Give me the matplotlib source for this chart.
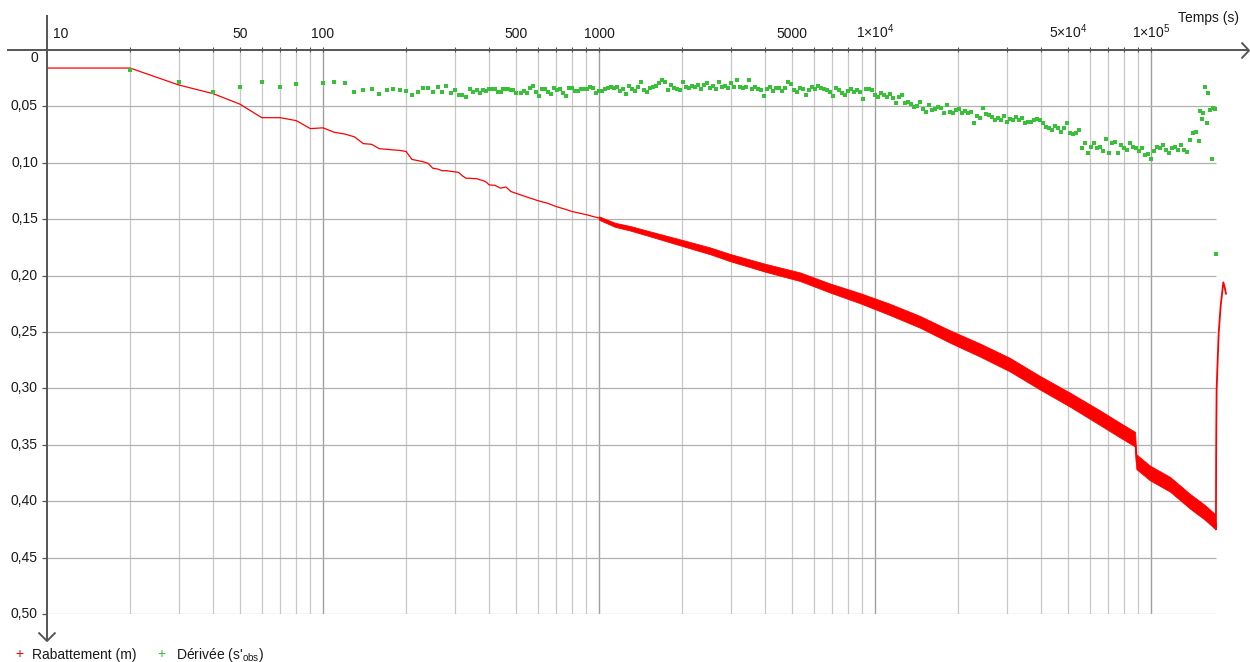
import numpy as np
import matplotlib.pyplot as plt
from matplotlib.lines import Line2D

plt.rcParams['font.family'] = ['Liberation Sans', 'DejaVu Sans']
plt.rcParams['mathtext.fontset'] = 'custom'
plt.rcParams['mathtext.rm'] = 'Liberation Sans'
plt.rcParams['mathtext.it'] = 'Liberation Sans'
plt.rcParams['mathtext.default'] = 'regular'

# --- drawdown (rabattement) in m, time in s ---
r_t = [10, 20, 30, 40, 50, 60, 70, 80, 90, 100, 110, 120, 130, 140, 150, 160, 170, 180,
       190, 200, 210, 220, 230, 240, 250, 260, 270, 280, 290, 300, 310, 320, 330, 340,
       350, 360, 370, 380, 390, 400, 420, 440, 460, 480, 500, 550, 600, 650, 700, 750,
       800, 900, 1000, 1143, 1295, 1530, 1808, 2136, 2524, 2983, 3995, 5350, 6871,
       8825, 11330, 14560, 18690, 24010, 30840, 39610, 50870, 65350, 77230, 87500,
       88500, 99170, 117200, 138400, 156900, 170600]
r_s = [0.016, 0.016, 0.031, 0.0387, 0.048, 0.060, 0.060, 0.0626, 0.0697, 0.069, 0.073,
       0.0745, 0.077, 0.083, 0.0836, 0.0875, 0.088, 0.0886, 0.089, 0.090, 0.097, 0.098,
       0.099, 0.1004, 0.1048, 0.1055, 0.107, 0.107, 0.1076, 0.108, 0.1085, 0.1116,
       0.1137, 0.1137, 0.114, 0.114, 0.115, 0.1158, 0.117, 0.1196, 0.120, 0.1225,
       0.1214, 0.1255, 0.127, 0.1305, 0.1335, 0.1358, 0.1388, 0.141, 0.1432, 0.146,
       0.149, 0.155, 0.158, 0.163, 0.168, 0.173, 0.178, 0.184, 0.193, 0.201, 0.211,
       0.220, 0.230, 0.241, 0.254, 0.266, 0.279, 0.295, 0.310, 0.326, 0.337, 0.345,
       0.365, 0.375, 0.385, 0.400, 0.410, 0.418]
# half spread of the sensor noise on the last points of r_t
r_noise = [0.0015, 0.0018, 0.002, 0.0022, 0.0025, 0.0028, 0.003, 0.0032, 0.0035,
           0.0038, 0.004, 0.0045, 0.005, 0.0052, 0.0055, 0.0058, 0.006, 0.006, 0.0062,
           0.0065, 0.0065, 0.0065, 0.0065, 0.0065, 0.0065, 0.0065, 0.0065, 0.0065]
# recovery after the pump stopped
rec_t = [170600, 171900, 172000, 172200, 172500, 172900, 174400, 175900, 178800,
         182800, 184800, 186900]
rec_s = [0.418, 0.425, 0.40, 0.36, 0.33, 0.301, 0.275, 0.251, 0.227, 0.206, 0.210, 0.216]

# --- derivative s'obs ---
d1_t = [20, 30, 40, 50, 60, 70, 80, 100, 110, 120, 130, 140, 150, 160, 170, 180, 190,
        200, 210, 220, 230, 240, 250, 260, 270, 280, 290, 300, 310, 320, 330, 340, 350,
        360, 370, 380, 390, 400, 410, 420, 430, 440, 450, 460, 470, 480, 490, 500]
d1_s = [0.018, 0.028, 0.037, 0.0325, 0.0287, 0.033, 0.030, 0.029, 0.028, 0.029, 0.037,
        0.0355, 0.0345, 0.039, 0.0357, 0.035, 0.0357, 0.0363, 0.040, 0.0375, 0.0337,
        0.0337, 0.037, 0.033, 0.037, 0.032, 0.038, 0.0357, 0.040, 0.040, 0.0417, 0.0343,
        0.0375, 0.0355, 0.0384, 0.0355, 0.036, 0.0346, 0.0346, 0.035, 0.037, 0.0375,
        0.0346, 0.0346, 0.035, 0.0352, 0.0355, 0.038]
d2_t = [522, 535, 548, 562, 577, 591, 606, 622, 637, 653, 670, 687, 704, 722, 741, 759,
        779, 798, 819, 839, 861, 882, 905, 928, 951, 975]
d2_s = [0.038, 0.036, 0.038, 0.034, 0.032, 0.037, 0.041, 0.035, 0.035, 0.037, 0.039,
        0.034, 0.0355, 0.0346, 0.038, 0.041, 0.034, 0.0334, 0.036, 0.036, 0.035, 0.035,
        0.0346, 0.0325, 0.034, 0.038]
d3_t = [1000, 1025, 1051, 1078, 1105, 1133, 1162, 1191, 1222, 1253, 1284, 1317, 1350,
        1384, 1420, 1455, 1492, 1530, 1569, 1609, 1649, 1691, 1734, 1778, 1823, 1869,
        1917, 1965, 2015, 2066, 2118, 2172, 2227, 2284, 2342, 2401, 2462, 2524, 2588,
        2654, 2721, 2790, 2861, 2933, 3008, 3084, 3162, 3242, 3325, 3409, 3495, 3584,
        3675, 3768, 3863, 3961, 4061, 4164, 4270, 4378, 4489, 4602, 4719, 4838, 4961,
        5087, 5215, 5347, 5483, 5623, 5765, 5911, 6061, 6215, 6372, 6534, 6699, 6869,
        7043, 7222, 7405, 7593, 7786, 7983, 8185, 8393, 8605, 8823, 9047, 9276, 9511,
        9752]
d3_s = [0.0363, 0.036, 0.0346, 0.034, 0.0325, 0.034, 0.0325, 0.036, 0.0346, 0.039,
        0.0316, 0.035, 0.036, 0.033, 0.028, 0.0354, 0.037, 0.034, 0.033, 0.0316,
        0.0295, 0.0266, 0.0287, 0.0354, 0.031, 0.0334, 0.0346, 0.0354, 0.0287, 0.0325,
        0.034, 0.0316, 0.033, 0.031, 0.035, 0.031, 0.0295, 0.034, 0.0316, 0.0346,
        0.028, 0.033, 0.032, 0.034, 0.0295, 0.0325, 0.0266, 0.0325, 0.0334, 0.033,
        0.0266, 0.0346, 0.0325, 0.0346, 0.0357, 0.0405, 0.0346, 0.033, 0.0363, 0.034,
        0.0334, 0.0363, 0.0334, 0.0287, 0.0304, 0.0354, 0.037, 0.034, 0.0346, 0.040,
        0.0354, 0.0325, 0.0346, 0.0316, 0.034, 0.0346, 0.0354, 0.037, 0.0405, 0.0334,
        0.0357, 0.038, 0.040, 0.0363, 0.035, 0.0375, 0.0357, 0.037, 0.0434, 0.0346,
        0.035, 0.0357]
d4_t = [10000, 10250, 10510, 10780, 11050, 11330, 11620, 11910, 12220, 12530, 12840,
        13170, 13500, 13840, 14200, 14550, 14920, 15300, 15690, 16090, 16490, 16910,
        17340, 17780, 18230, 18690, 19170, 19650, 20150, 20660, 21180, 21720, 22270,
        22840, 23420, 24010, 24620, 25240, 25880, 26540, 27210, 27900, 28610, 29330,
        30080, 30840, 31620, 32420, 33250, 34090, 34950, 35840, 36750, 37680, 38630,
        39610, 40610, 41640, 42700, 43780, 44890, 46020, 47190, 48380, 49610, 50870,
        52150, 53470, 54830, 56230, 57650, 59110, 60610, 62150, 63720, 65340, 66990,
        68690, 70430, 72220, 74050, 75930, 77860, 79830, 81850, 83930, 86050, 88230,
        90470, 92760, 95110, 97520]
d4_s = [0.040, 0.0413, 0.0378, 0.0399, 0.0414, 0.039, 0.0428, 0.0473, 0.0414, 0.0399,
        0.0473, 0.0458, 0.048, 0.0508, 0.0496, 0.0458, 0.0526, 0.0546, 0.0487, 0.0532,
        0.0526, 0.0502, 0.0517, 0.0561, 0.0487, 0.0546, 0.0561, 0.0532, 0.0526, 0.0555,
        0.0538, 0.0561, 0.0546, 0.0644, 0.0585, 0.0606, 0.0517, 0.0567, 0.0576, 0.0591,
        0.062, 0.0603, 0.062, 0.0585, 0.0635, 0.0614, 0.062, 0.0597, 0.062, 0.0606,
        0.0644, 0.0635, 0.0635, 0.062, 0.0614, 0.062, 0.065, 0.0679, 0.0694, 0.0709,
        0.0673, 0.0694, 0.0724, 0.0694, 0.065, 0.0732, 0.0744, 0.0738, 0.0709, 0.0871,
        0.0827, 0.091, 0.0856, 0.0827, 0.0871, 0.0856, 0.0892, 0.0791, 0.0915, 0.0827,
        0.0812, 0.0915, 0.0842, 0.0871, 0.0886, 0.0827, 0.0856, 0.0871, 0.0892, 0.0871,
        0.093, 0.0921]
d5_t = [100000, 102500, 105100, 107800, 110500, 113300, 116200, 119100, 122200, 125300,
        128400, 131700, 135000, 138400, 142000, 145500, 149200, 150500, 152600, 154700,
        156900, 159100, 161300, 163600, 165900, 167300, 170600, 171500]
d5_s = [0.0969, 0.0892, 0.0856, 0.0871, 0.0842, 0.0886, 0.0915, 0.0871, 0.0856, 0.0886,
        0.0842, 0.0886, 0.0901, 0.0797, 0.0738, 0.0724, 0.0803, 0.054, 0.0614, 0.0561,
        0.0325, 0.065, 0.0378, 0.0532, 0.0969, 0.0517, 0.0526, 0.181]

# axis decorations
grid_x = [20, 30, 40, 50, 60, 70, 80, 90, 100, 200, 300, 400, 500, 600, 700, 800, 900,
          1000, 2000, 3000, 4000, 5000, 6000, 7000, 8000, 9000, 10000, 20000, 30000,
          40000, 50000, 60000, 70000, 80000, 90000, 100000]
decades = [100, 1000, 10000, 100000]
grid_y = [0.05, 0.10, 0.15, 0.20, 0.25, 0.30, 0.35, 0.40, 0.45, 0.50]
x_labels = {10: '10', 50: '50', 100: '100', 500: '500', 1000: '1000', 5000: '5000',
            10000: '1×10$^4$', 50000: '5×10$^4$', 100000: '1×10$^5$'}
y_ticks = [0, 0.05, 0.10, 0.15, 0.20, 0.25, 0.30, 0.35, 0.40, 0.45, 0.50]
t_end = 172000

W, H = 1250, 662
fig = plt.figure(figsize=(W / 100, H / 100), dpi=100)
ax = fig.add_axes([47 / W, 1 - 614 / H, (W - 47) / W, (614 - 50) / H])
ax.set_xscale('log')
ax.set_xlim(10, 10 ** (1 + (W - 47) / 276))
ax.set_ylim(0.5, 0)
ax.axis('off')

axis_col = '#555555'
txt_col = '#1a1a1a'
ax.vlines([v for v in grid_x if v not in decades], 0, 0.5, color='#c8c8c8', lw=0.9, zorder=1)
ax.vlines(decades, 0, 0.5, color='#a0a0a0', lw=1.0, zorder=1)
ax.hlines(grid_y, 10, t_end, color='#b0b0b0', lw=0.9, zorder=1)
# small ticks
ax.vlines(grid_x, -0.003, 0.002, color=axis_col, lw=0.8, clip_on=False, zorder=3)
ax.hlines(y_ticks[1:], 9.6, 10, color=axis_col, lw=0.9, clip_on=False, zorder=3)

for v, lab in x_labels.items():
    if v == 10:
        ax.annotate(lab, (v, 0), xytext=(4, 6.5), textcoords='offset points',
                    ha='left', va='bottom', fontsize=10, color=txt_col, annotation_clip=False)
    else:
        ax.annotate(lab, (v, 0), xytext=(0, 6.5), textcoords='offset points',
                    ha='center', va='bottom', fontsize=10, color=txt_col, annotation_clip=False)
for v in y_ticks:
    lab = '0' if v == 0 else ('%.2f' % v).replace('.', ',')
    dy = -6 if v == 0 else 0
    ax.annotate(lab, (10, v), xytext=(-6.5, dy), textcoords='offset points',
                ha='right', va='center', fontsize=10, color=txt_col, annotation_clip=False)

# drawdown: thin line, noisy band for the long-term record
red = '#ff0000'
ax.plot(r_t, r_s, color=red, lw=0.9, zorder=4)
n = len(r_noise)
tail_t = np.array(r_t[-n:])
tail_s = np.array(r_s[-n:])
noise = np.array(r_noise)
ax.fill_between(tail_t, tail_s - noise, tail_s + noise, color=red, lw=0.6,
                edgecolor=red, zorder=4)
ax.plot(rec_t, rec_s, color=red, lw=1.3, zorder=4)

# derivative points
g_t = d1_t + d2_t + d3_t + d4_t + d5_t
g_s = d1_s + d2_s + d3_s + d4_s + d5_s
green = '#38c038'
ax.plot(g_t, g_s, ls='none', marker='s', ms=2.2, mew=0, color=green, zorder=5,
        clip_on=False)

# axes with open arrow heads
def fig_line(xs, ys):
    fig.add_artist(Line2D([x / W for x in xs], [1 - y / H for y in ys],
                          color=axis_col, lw=1.4, transform=fig.transFigure,
                          solid_capstyle='butt', zorder=6))

fig_line([7, 1249], [50, 50])
fig_line([1241.5, 1249, 1241.5], [42.5, 50.5, 58.5])
fig_line([47, 47], [15, 641])
fig_line([38.5, 47, 55.5], [632.5, 641, 632.5])

fig.text(1239 / W, 1 - 18 / H, 'Temps (s)', ha='right', va='center', fontsize=10,
         color=txt_col)

fig.text(19 / W, 1 - 654 / H, '+', color=red, ha='center', va='center', fontsize=10)
fig.text(32 / W, 1 - 655 / H, 'Rabattement (m)', ha='left', va='center', fontsize=10,
         color=txt_col)
fig.text(161 / W, 1 - 654 / H, '+', color=green, ha='center', va='center', fontsize=10)
fig.text(176 / W, 1 - 655 / H, "Dérivée (s'$_{obs}$)", ha='left', va='center',
         fontsize=10, color=txt_col)

fig.savefig('out.png', dpi=100)
